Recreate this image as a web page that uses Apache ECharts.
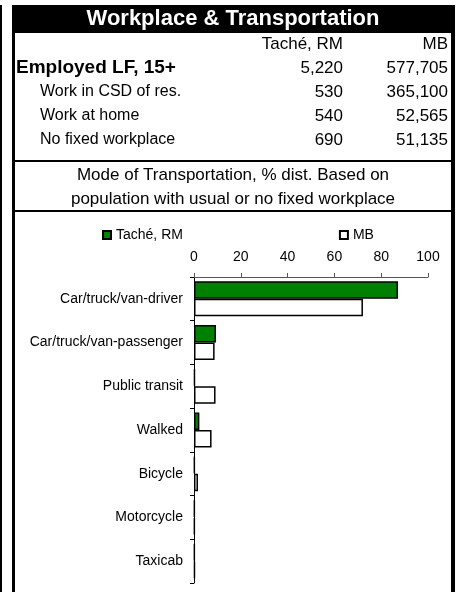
<!DOCTYPE html>
<html><head><meta charset="utf-8">
<script src="https://cdn.jsdelivr.net/npm/echarts@6/dist/echarts.min.js"></script>
<style>html,body{margin:0;padding:0;background:#fff}#c{width:457px;height:592px}</style>
</head><body><div id="c"></div>
<script>
const titleText = 'Workplace & Transportation';
const colHeaders = ['Taché, RM', 'MB'];
const rowLabels = ['Employed LF, 15+', 'Work in CSD of res.', 'Work at home', 'No fixed workplace'];
const tacheCounts = ['5,220', '530', '540', '690'];
const mbCounts = ['577,705', '365,100', '52,565', '51,135'];
const subtitleLines = ['Mode of Transportation, % dist. Based on', 'population with usual or no fixed workplace'];
const seriesNames = ['Taché, RM', 'MB'];
const categories = ['Car/truck/van-driver', 'Car/truck/van-passenger', 'Public transit', 'Walked', 'Bicycle', 'Motorcycle', 'Taxicab'];
const tacheShare = [87.2, 9.4, 0.4, 2.3, 0.3, 0.3, 0.3];
const mbShare = [72.2, 8.8, 9.2, 7.5, 1.7, 0.3, 0.4];

const FONT = '"Liberation Sans", Arial, sans-serif';
const chart = echarts.init(document.getElementById('c'), null, {renderer: 'canvas'});

const TS = 16;
const graphics = [];
graphics.push({type: 'rect', shape: {x: 0, y: 5, width: 2, height: 587}, style: {fill: '#000'}});
graphics.push({type: 'rect', shape: {x: 12, y: 5, width: 443, height: 28}, style: {fill: '#000'}});
graphics.push({type: 'rect', shape: {x: 12, y: 5, width: 3, height: 587}, style: {fill: '#000'}});
graphics.push({type: 'rect', shape: {x: 451, y: 5, width: 4, height: 587}, style: {fill: '#000'}});
graphics.push({type: 'rect', shape: {x: 12, y: 160, width: 443, height: 2}, style: {fill: '#000'}});
graphics.push({type: 'rect', shape: {x: 12, y: 210, width: 443, height: 2}, style: {fill: '#000'}});
graphics.push({type: 'text', x: 233, y: 19, style: {text: titleText, fill: '#fff', font: 'bold 22px ' + FONT, textAlign: 'center', textVerticalAlign: 'middle'}});
const rowY0 = 44, rowStep = 24;
graphics.push({type: 'text', x: 343, y: rowY0, style: {text: colHeaders[0], fill: '#000', font: '17px ' + FONT, textAlign: 'right', textVerticalAlign: 'middle'}});
graphics.push({type: 'text', x: 448, y: rowY0, style: {text: colHeaders[1], fill: '#000', font: '17px ' + FONT, textAlign: 'right', textVerticalAlign: 'middle'}});
rowLabels.forEach((lab, i) => {
  const y = rowY0 + rowStep * (i + 1);
  const bold = i === 0;
  graphics.push({type: 'text', x: bold ? 16 : 40, y, style: {text: lab, fill: '#000', font: (bold ? 'bold 19px ' : TS + 'px ') + FONT, textAlign: 'left', textVerticalAlign: 'middle'}});
  graphics.push({type: 'text', x: 343, y, style: {text: tacheCounts[i], fill: '#000', font: '17px ' + FONT, textAlign: 'right', textVerticalAlign: 'middle'}});
  graphics.push({type: 'text', x: 448, y, style: {text: mbCounts[i], fill: '#000', font: '17px ' + FONT, textAlign: 'right', textVerticalAlign: 'middle'}});
});
subtitleLines.forEach((t, i) => {
  graphics.push({type: 'text', x: 233, y: 175 + 24 * i, style: {text: t, fill: '#000', font: '17px ' + FONT, textAlign: 'center', textVerticalAlign: 'middle'}});
});

chart.setOption({
  animation: false,
  backgroundColor: '#fff',
  textStyle: {fontFamily: FONT},
  graphic: {elements: graphics},
  legend: {
    left: 97, top: 223, itemWidth: 8, itemHeight: 8, itemGap: 156, icon: 'rect',
    textStyle: {color: '#000', fontSize: 14, fontFamily: FONT},
    data: seriesNames
  },
  grid: {left: 194, right: 29, top: 277, bottom: 9, containLabel: false},
  xAxis: {
    type: 'value', position: 'top', min: 0, max: 100, interval: 20,
    axisLine: {show: true, lineStyle: {color: '#555', width: 1}},
    axisTick: {show: true, length: 4, lineStyle: {color: '#555'}},
    axisLabel: {color: '#000', fontSize: 14, margin: 13, fontFamily: FONT},
    splitLine: {show: false}
  },
  yAxis: {
    type: 'category', inverse: true, data: categories,
    axisLine: {show: true, lineStyle: {color: '#000', width: 1}},
    axisTick: {show: true, length: 4, lineStyle: {color: '#000'}},
    axisLabel: {color: '#000', fontSize: 14, margin: 11, fontFamily: FONT}
  },
  series: [
    {name: seriesNames[0], type: 'bar', data: tacheShare, barGap: '0%', barCategoryGap: '20%',
     itemStyle: {color: '#008000', borderColor: '#000', borderWidth: 1.5}},
    {name: seriesNames[1], type: 'bar', data: mbShare, barGap: '0%', barCategoryGap: '20%',
     itemStyle: {color: '#fff', borderColor: '#000', borderWidth: 1.5}}
  ]
});
</script></body></html>
